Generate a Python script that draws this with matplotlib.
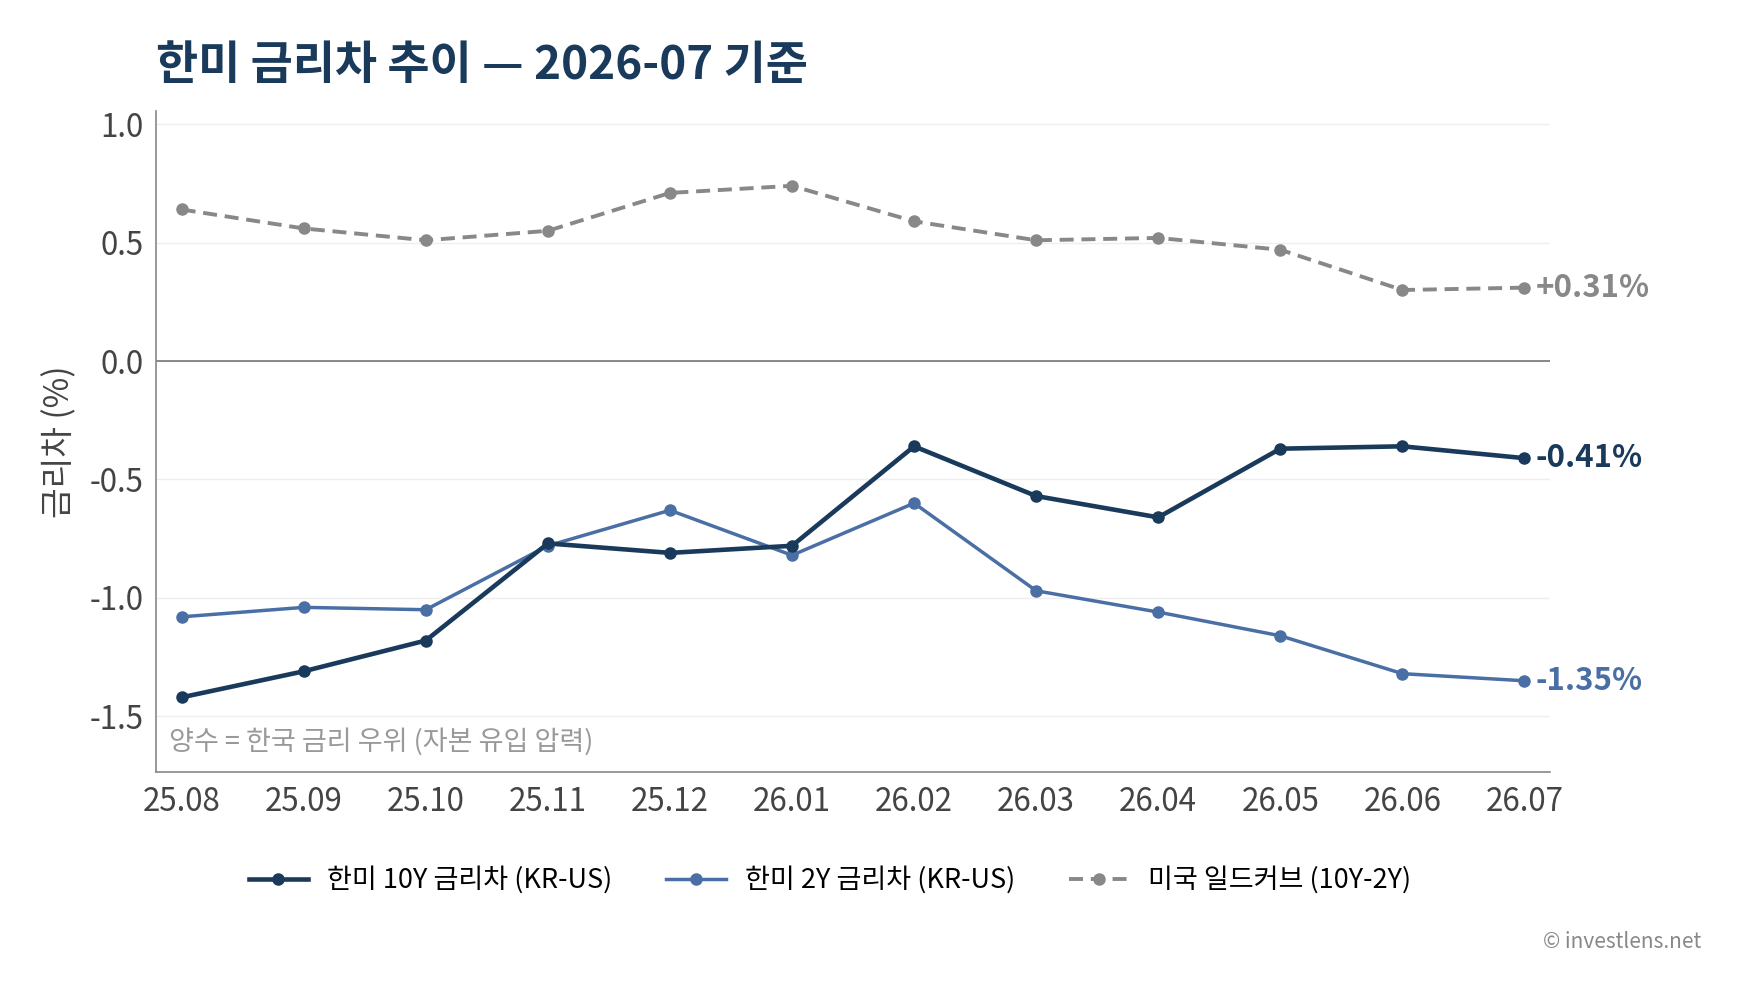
import matplotlib
matplotlib.use('Agg')
import matplotlib.pyplot as plt

plt.rcParams['font.family'] = ['Noto Sans CJK KR', 'DejaVu Sans']

months = ["25.08", "25.09", "25.10", "25.11", "25.12", "26.01",
          "26.02", "26.03", "26.04", "26.05", "26.06", "26.07"]
kr_us_10y = [-1.42, -1.31, -1.18, -0.77, -0.81, -0.78, -0.36, -0.57, -0.66, -0.37, -0.36, -0.41]
kr_us_2y = [-1.08, -1.04, -1.05, -0.78, -0.63, -0.82, -0.60, -0.97, -1.06, -1.16, -1.32, -1.35]
us_curve = [0.64, 0.56, 0.51, 0.55, 0.71, 0.74, 0.59, 0.51, 0.52, 0.47, 0.30, 0.31]

NAVY = '#1a3a5c'
BLUE = '#4a6fa5'
GRAY = '#888888'

fig = plt.figure(figsize=(17.47, 9.98), dpi=100)
ax = fig.add_axes([0.0893, 0.2265, 0.798, 0.6623])
x = list(range(len(months)))

ax.plot(x, kr_us_10y, '-o', color=NAVY, lw=3.3, ms=8, label='한미 10Y 금리차 (KR-US)', zorder=4)
ax.plot(x, kr_us_2y, '-o', color=BLUE, lw=2.5, ms=8, label='한미 2Y 금리차 (KR-US)', zorder=3)
ax.plot(x, us_curve, '--o', color=GRAY, lw=2.8, ms=8, dashes=(3.6, 2.0), label='미국 일드커브 (10Y-2Y)', zorder=3)

ax.axhline(0, color=GRAY, lw=1.4, zorder=2)
ax.set_xlim(-0.21, 11.21)
ax.set_ylim(-1.735, 1.056)
ax.set_yticks([1.0, 0.5, 0.0, -0.5, -1.0, -1.5])
ax.set_yticklabels(['1.0', '0.5', '0.0', '-0.5', '-1.0', '-1.5'])
ax.set_xticks(x)
ax.set_xticklabels(months)
ax.yaxis.grid(True, color='#eeeeee', lw=1)
ax.set_axisbelow(True)
ax.tick_params(length=0, labelsize=22.5, colors='#444444', pad=9)
ax.tick_params(axis='x', pad=10)
for s in ['top', 'right']:
    ax.spines[s].set_visible(False)
for s in ['left', 'bottom']:
    ax.spines[s].set_color(GRAY)
    ax.spines[s].set_linewidth(1.2)

ax.set_ylabel('금리차 (%)', fontsize=24, color='#444444', labelpad=9)

for series, col, txt in [(us_curve, GRAY, '+0.31%'), (kr_us_10y, NAVY, '-0.41%'), (kr_us_2y, BLUE, '-1.35%')]:
    ax.annotate(txt, (11, series[-1]), xytext=(8, 0), textcoords='offset points',
                color=col, fontsize=22.5, fontweight='bold', va='center', ha='left',
                annotation_clip=False)

ax.text(0.009, 0.045, '양수 = 한국 금리 우위 (자본 유입 압력)', transform=ax.transAxes,
        fontsize=19.5, color='#999999', ha='left', va='center')

fig.text(0.0893, 0.934, '한미 금리차 추이 — 2026-07 기준', fontsize=33, fontweight='bold',
         color=NAVY, ha='left', va='center')

fig.legend(loc='center', bbox_to_anchor=(0.475, 0.118), ncol=3, frameon=False,
           fontsize=19.5, handlelength=2.2, columnspacing=2.0, handletextpad=0.7)

fig.text(0.974, 0.056, '© investlens.net', fontsize=15, color='#888888', ha='right', va='center')

fig.savefig('out.png', dpi=100, facecolor='white')
